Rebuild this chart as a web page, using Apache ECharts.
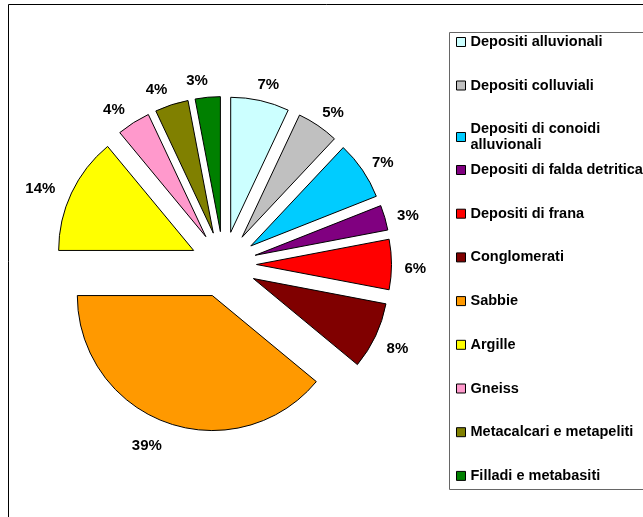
<!DOCTYPE html>
<html>
<head>
<meta charset="utf-8">
<script src="https://cdn.jsdelivr.net/npm/echarts@6/dist/echarts.min.js"></script>
<style>
html,body{margin:0;padding:0;background:#fff;}
#chart{width:643px;height:517px;}
</style>
</head>
<body>
<div id="chart"></div>
<script>
const categories = [
  'Depositi alluvionali',
  'Depositi colluviali',
  'Depositi di conoidi alluvionali',
  'Depositi di falda detritica',
  'Depositi di frana',
  'Conglomerati',
  'Sabbie',
  'Argille',
  'Gneiss',
  'Metacalcari e metapeliti',
  'Filladi e metabasiti'
];
const percentValues = [7, 5, 7, 3, 6, 8, 39, 14, 4, 4, 3];
const sliceColors = ['#CCFFFF', '#C0C0C0', '#00CCFF', '#800080', '#FF0000', '#800000', '#FF9900', '#FFFF00', '#FF99CC', '#808000', '#008000'];
const legendLabels = {
  'Depositi di conoidi alluvionali': 'Depositi di conoidi\nalluvionali'
};

const font = '"Liberation Sans", Arial, sans-serif';
const chart = echarts.init(document.getElementById('chart'), null, {renderer: 'canvas'});

const pieData = categories.map((name, i) => ({
  name: name,
  value: percentValues[i],
  selected: true,
  itemStyle: {color: sliceColors[i]}
}));

const legendBase = {
  orient: 'vertical',
  left: 456,
  padding: 0,
  itemWidth: 9,
  itemHeight: 9,
  icon: 'rect',
  itemStyle: {borderColor: '#000', borderWidth: 1},
  selectedMode: false,
  formatter: n => legendLabels[n] || n,
  textStyle: {fontFamily: font, fontSize: 14.5, fontWeight: 'bold', color: '#000', lineHeight: 16}
};

chart.setOption({
  animation: false,
  backgroundColor: '#fff',
  graphic: [
    {type: 'rect', z: -10, silent: true, shape: {x: 8.5, y: 4.5, width: 700, height: 600}, style: {fill: 'none', stroke: '#000', lineWidth: 1}},
    {type: 'rect', z: -9, silent: true, shape: {x: 449.5, y: 32.5, width: 300, height: 457}, style: {fill: '#fff', stroke: '#666', lineWidth: 1}}
  ],
  legend: [
    Object.assign({}, legendBase, {top: 34, itemGap: 27.5, data: categories.slice(0, 3)}),
    Object.assign({}, legendBase, {top: 162, itemGap: 27.7, data: categories.slice(3)})
  ],
  series: [{
    type: 'pie',
    center: [223.5, 264.5],
    radius: 135,
    startAngle: 90,
    clockwise: true,
    selectedMode: 'multiple',
    selectedOffset: 33,
    avoidLabelOverlap: false,
    data: pieData,
    itemStyle: {borderColor: '#000', borderWidth: 1},
    select: {itemStyle: {borderColor: '#000', borderWidth: 1}},
    emphasis: {disabled: true},
    label: {
      show: true,
      position: 'outside',
      formatter: '{p|{c}%}',
      distanceToLabelLine: -7,
      padding: [0, 5, 0, 0],
      rich: {
        p: {fontFamily: font, fontSize: 15, fontWeight: 'bold', color: '#000', padding: [8, 0, 0, 0]}
      },
      fontFamily: font,
      fontSize: 15,
      fontWeight: 'bold',
      color: '#000'
    },
    labelLine: {show: false, length: 20, length2: 0}
  }]
});
</script>
</body>
</html>
